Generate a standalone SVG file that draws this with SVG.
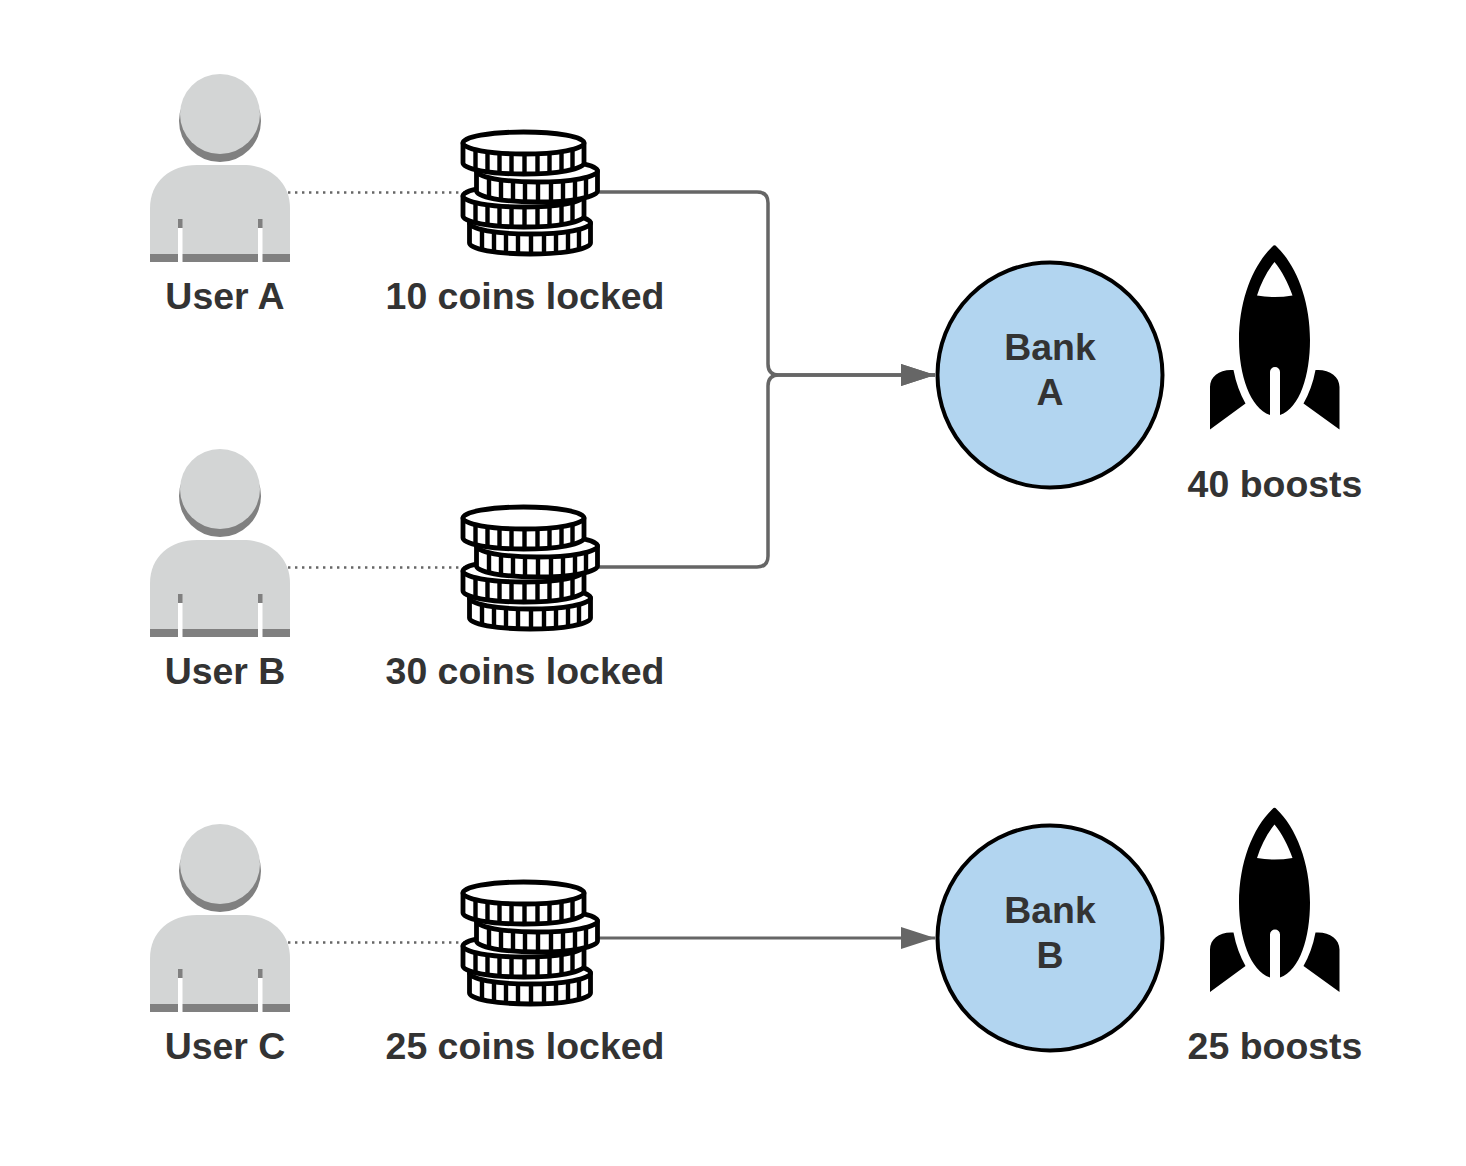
<svg xmlns="http://www.w3.org/2000/svg" xmlns:xlink="http://www.w3.org/1999/xlink" width="1466" height="1166" viewBox="0 0 1466 1166">
<style>
text{font-family:"Liberation Sans",Arial,sans-serif;font-weight:700;font-size:37.45px;fill:#333;text-anchor:middle}
.lt{fill:#d3d5d5}.dk{fill:#808080}
.coin{fill:#fff;stroke:#000;stroke-width:4.800;stroke-linejoin:round}
.tick{fill:none;stroke:#000;stroke-width:4.400}
.dot{fill:none;stroke:#666;stroke-width:2.400;stroke-dasharray:2.400 4.600}
.link{fill:none;stroke:#666;stroke-width:3.500}
.link2{fill:none;stroke:#666;stroke-width:2.800}
.bank{fill:#b2d5f0;stroke:#000;stroke-width:4}
</style>
<defs>
<marker id="arrow" markerUnits="userSpaceOnUse" markerWidth="36" markerHeight="24" refX="35" refY="12" orient="auto"><path d="M1 1L35 12L1 23Z" fill="#666"/></marker>
<g id="user">
<circle class="dk" cx="220" cy="121" r="41"/>
<circle class="lt" cx="220" cy="114" r="40"/>
<path class="lt" d="M150 262V208C150 182 170 165 197 165H243C270 165 290 182 290 208V262Z"/>
<rect class="dk" x="150" y="254" width="140" height="8"/>
<rect class="dk" x="178" y="219" width="4.500" height="9"/>
<rect class="dk" x="258" y="219" width="4.500" height="9"/>
<rect x="178" y="228" width="4.500" height="34" fill="#fff"/>
<rect x="258" y="228" width="4.500" height="34" fill="#fff"/>
</g>
<g id="c">
<path class="coin" d="M-60.500 0V20A60.500 11 0 0 0 60.500 20V0Z"/>
<ellipse class="coin" cx="0" cy="0" rx="60.500" ry="11"/>
<path class="tick" d="M-48 7V27M-36 9V29M-24 10V30M-12 11V31M1 11V31M14 11V31M26 10V30M38 9V29M49 7V27"/>
</g>
<g id="coins">
<use xlink:href="#c" href="#c" x="530" y="223"/>
<use xlink:href="#c" href="#c" x="523.500" y="196"/>
<use xlink:href="#c" href="#c" x="537" y="171"/>
<use xlink:href="#c" href="#c" x="523.500" y="143"/>
</g>
<g id="rocket">
<path fill-rule="evenodd" d="M1272.500 246.500Q1274.500 244 1276.500 246.500C1296 265 1310 300 1310 340C1310 375 1300 408 1280 415V372A5 5 0 0 0 1270 372V415C1250 408 1239 375 1239 340C1239 300 1253 265 1272.500 246.500ZM1274.500 262C1267 271 1261 283 1257 295.500Q1274.500 298.500 1292.500 295.500C1288 283 1282 271 1274.500 262Z"/>
<path d="M1210 429.500V387C1210 376 1220 369 1233.500 370C1236 383 1240 394 1245.500 403.500Z"/>
<path d="M1339.500 429.500V387C1339.500 376 1329 369 1315.500 370C1313 383 1309 394 1303.500 403.500Z"/>
</g>
</defs>
<g id="connectors">
<path class="dot" d="M288 192.500H466"/>
<path class="dot" d="M288 567.500H466"/>
<path class="dot" d="M288 942.500H466"/>
<path class="link" d="M599 192H757Q768 192 768 203V364Q768 375 779 375H935" marker-end="url(#arrow)"/>
<path class="link" d="M599 567H757Q768 567 768 556V386Q768 375 779 375H935" marker-end="url(#arrow)"/>
<path class="link2" d="M599 938H935" marker-end="url(#arrow)"/>
</g>
<g id="user-a"><use xlink:href="#user" href="#user"/><text x="225" y="309">User A</text></g>
<g id="coins-a"><use xlink:href="#coins" href="#coins"/><text x="525" y="309">10 coins locked</text></g>
<g id="user-b"><use xlink:href="#user" href="#user" y="375"/><text x="225" y="684">User B</text></g>
<g id="coins-b"><use xlink:href="#coins" href="#coins" y="375"/><text x="525" y="684">30 coins locked</text></g>
<g id="user-c"><use xlink:href="#user" href="#user" y="750"/><text x="225" y="1059">User C</text></g>
<g id="coins-c"><use xlink:href="#coins" href="#coins" y="750"/><text x="525" y="1059">25 coins locked</text></g>
<g id="bank-a"><circle class="bank" cx="1050" cy="375" r="112.500"/><text x="1050" y="360">Bank</text><text x="1050" y="405">A</text></g>
<g id="bank-b"><circle class="bank" cx="1050" cy="938" r="112.500"/><text x="1050" y="922.500">Bank</text><text x="1050" y="967.500">B</text></g>
<g id="boost-a"><use xlink:href="#rocket" href="#rocket"/><text x="1275" y="497">40 boosts</text></g>
<g id="boost-b"><use xlink:href="#rocket" href="#rocket" y="562.500"/><text x="1275" y="1059">25 boosts</text></g>
</svg>
